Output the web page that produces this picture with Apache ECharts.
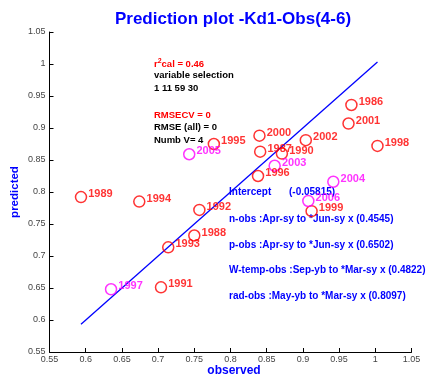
<!DOCTYPE html>
<html>
<head>
<meta charset="utf-8">
<script src="https://cdn.jsdelivr.net/npm/echarts@6/dist/echarts.min.js"></script>
<style>html,body{margin:0;padding:0;background:#fff}#c{width:427px;height:379px}</style>
</head>
<body>
<div id="c"></div>
<script>
// Red points (calibration years)
var redYears = ['1986','2001','2000','1995','2002','1998','1987','1990','1996','1989','1994','1992','1999','1988','1993','1991'];
var redObserved = [0.967,0.963,0.840,0.777,0.904,1.003,0.841,0.871,0.838,0.5935,0.674,0.757,0.912,0.750,0.714,0.704];
var redPredicted = [0.936,0.907,0.888,0.875,0.881,0.872,0.863,0.860,0.825,0.792,0.785,0.772,0.770,0.732,0.7136,0.651];
// Magenta points (validation years)
var magYears = ['2005','2003','2004','2006','1997'];
var magObserved = [0.743,0.861,0.942,0.9075,0.635];
var magPredicted = [0.859,0.841,0.816,0.786,0.648];
// 1:1 line endpoints
var lineObserved = [0.5935,1.003];
var linePredicted = [0.5935,1.003];
// Axis ticks
var axisMin = 0.55, axisMax = 1.05, axisStep = 0.05;

var statsLines = [
  {text:'{r|r}{sup|2}{r|cal = 0.46}', color:'#ff0000'},
  {text:'variable selection', color:'#000'},
  {text:'1 11 59 30', color:'#000'},
  {text:'RMSECV = 0', color:'#ff0000'},
  {text:'RMSE (all) = 0', color:'#000'},
  {text:'Numb V= 4', color:'#000'}
];
var statsY = [64,76,89,116,128,141];
var coefLines = [
  'n-obs :Apr-sy to *Jun-sy x (0.4545)',
  'p-obs :Apr-sy to *Jun-sy x (0.6502)',
  'W-temp-obs :Sep-yb to *Mar-sy x (0.4822)',
  'rad-obs :May-yb to *Mar-sy x (0.8097)'
];
var coefY = [220,246,271,297];

function zip(a,b,n){return a.map(function(v,i){return {value:[v,b[i]], name:n[i]};});}
var fontFam = 'Liberation Sans, Arial, Helvetica, sans-serif';
function fmt(v){return String(parseFloat(v.toFixed(2)));}

var graphics = [];
statsLines.forEach(function(l,i){
  graphics.push({type:'text', left:154, top:statsY[i]-6, style:{
    text:l.text, fill:l.color, font:'bold 9.5px '+fontFam,
    rich:{r:{fill:'#ff0000',font:'bold 9.5px '+fontFam}, sup:{fill:'#ff0000',font:'bold 7px '+fontFam, verticalAlign:'top', padding:[0,0,5,0]}}
  }});
});
graphics.push({type:'text', left:229, top:193-6, style:{text:'Intercept', fill:'#0000ff', font:'bold 10px '+fontFam}});
graphics.push({type:'text', left:289, top:193-6, style:{text:'(-0.05815)', fill:'#0000ff', font:'bold 10px '+fontFam}});
coefLines.forEach(function(t,i){
  graphics.push({type:'text', left:229, top:coefY[i]-6, style:{text:t, fill:'#0000ff', font:'bold 10px '+fontFam}});
});

var labelCfg = function(color){return {show:true, position:'right', distance:1, offset:[0,-3], color:color, fontFamily:fontFam, fontWeight:'bold', fontSize:11, formatter:function(p){return p.name;}};};

var chart = echarts.init(document.getElementById('c'), null, {renderer:'canvas'});
chart.setOption({
  animation:false,
  backgroundColor:'#fff',
  title:{text:'Prediction plot -Kd1-Obs(4-6)', left:228, top:6, textAlign:'center', textStyle:{color:'#0000ff', fontFamily:fontFam, fontWeight:'bold', fontSize:17}},
  grid:{left:49.5, top:32, right:15.5, bottom:27, containLabel:false, outerBoundsMode:'none'},
  xAxis:{type:'value', min:axisMin, max:axisMax, interval:axisStep,
    name:'observed', nameLocation:'middle', nameGap:13, nameMoveOverlap:false, nameTextStyle:{color:'#0000ff', fontFamily:fontFam, fontWeight:'bold', fontSize:12, padding:[0,0,0,7]},
    axisLine:{show:true, onZero:false, lineStyle:{color:'#000', width:1}},
    axisTick:{show:true, inside:true, length:4, lineStyle:{color:'#000'}},
    axisLabel:{color:'#444', fontFamily:fontFam, fontSize:9, margin:3, formatter:fmt, showMinLabel:true, showMaxLabel:true},
    splitLine:{show:false}},
  yAxis:{type:'value', min:axisMin, max:axisMax, interval:axisStep,
    name:'predicted', nameLocation:'middle', nameGap:29, nameMoveOverlap:false, nameRotate:90, nameTextStyle:{color:'#0000ff', fontFamily:fontFam, fontWeight:'bold', fontSize:11.5},
    axisLine:{show:true, onZero:false, lineStyle:{color:'#000', width:1}},
    axisTick:{show:true, inside:true, length:4, lineStyle:{color:'#000'}},
    axisLabel:{color:'#444', fontFamily:fontFam, fontSize:9, margin:4, formatter:fmt, showMinLabel:true, showMaxLabel:true},
    splitLine:{show:false}},
  graphic:graphics,
  series:[
    {type:'line', data:lineObserved.map(function(v,i){return [v,linePredicted[i]];}), showSymbol:false, symbol:'none', lineStyle:{color:'#0000ff', width:1.3}, z:3},
    {type:'scatter', data:zip(redObserved,redPredicted,redYears), symbol:'circle', symbolSize:11,
      itemStyle:{color:'rgba(0,0,0,0)', borderColor:'#ff0000', borderWidth:1.5}, label:labelCfg('#ff0000'), z:4},
    {type:'scatter', data:zip(magObserved,magPredicted,magYears), symbol:'circle', symbolSize:11,
      itemStyle:{color:'rgba(0,0,0,0)', borderColor:'#ff00ff', borderWidth:1.5}, label:labelCfg('#ff00ff'), z:4}
  ]
});
</script>
</body>
</html>
